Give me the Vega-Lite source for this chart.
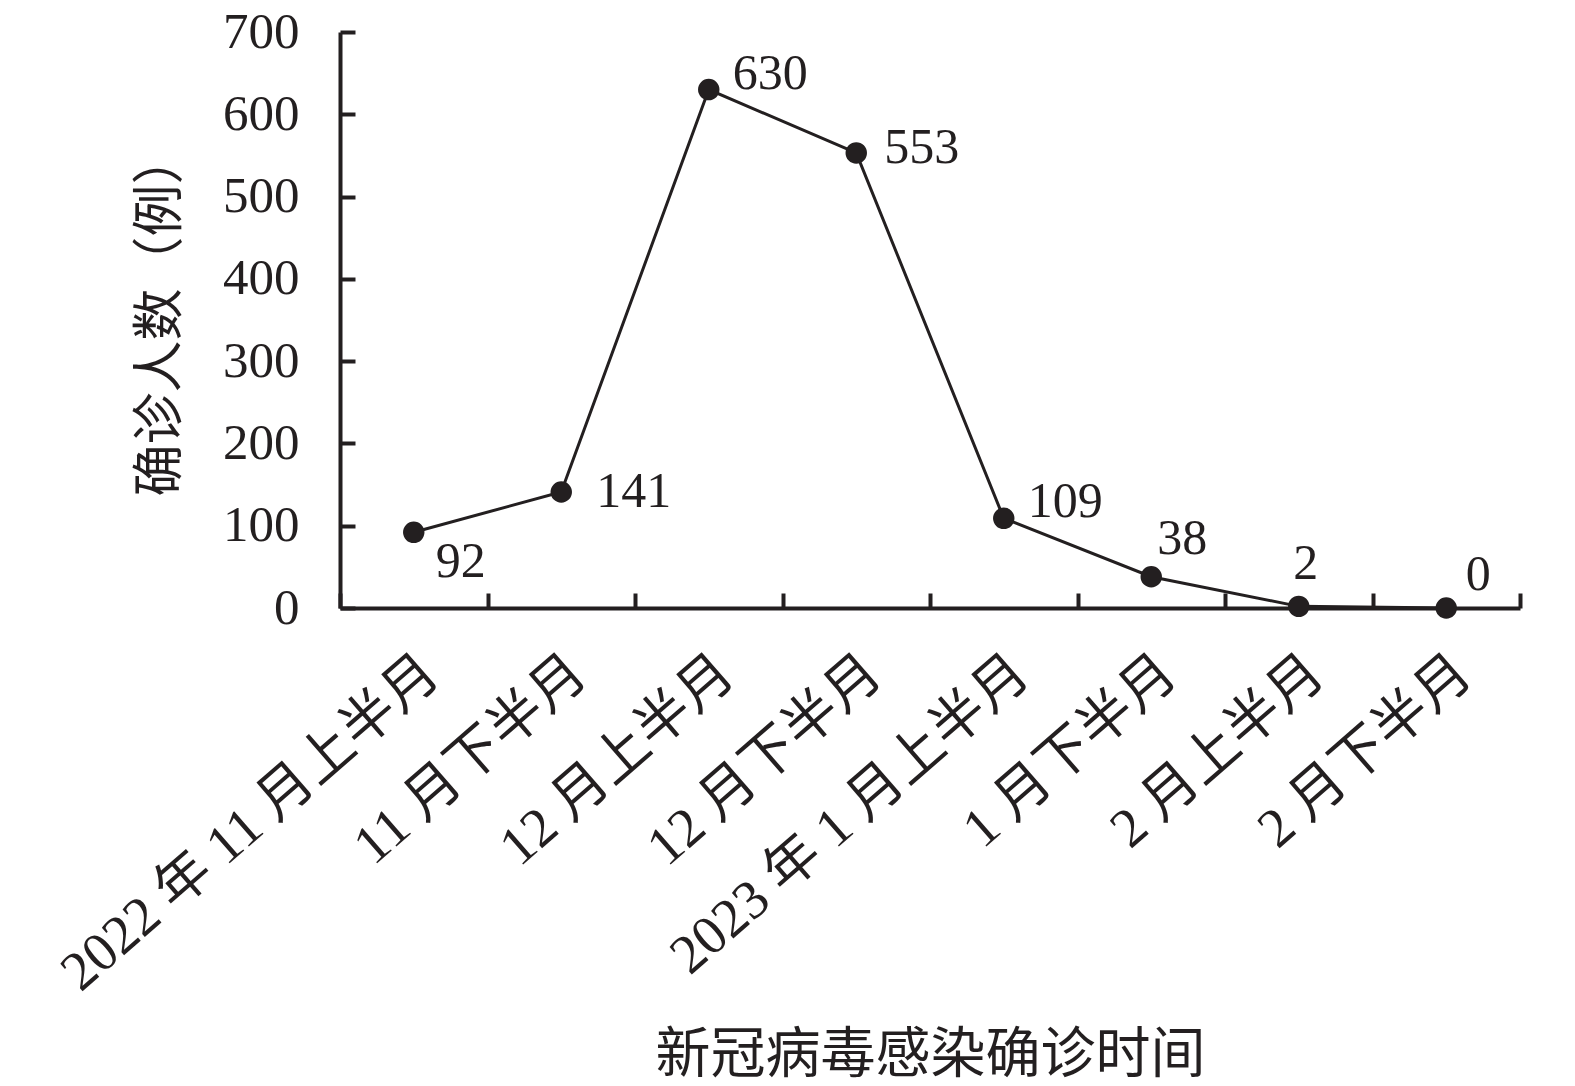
{
  "$schema": "https://vega.github.io/schema/vega-lite/v6.json",
  "autosize": "none",
  "width": 1180,
  "height": 576,
  "padding": {"left": 340, "top": 32, "right": 55, "bottom": 478},
  "background": "white",
  "data": {
    "values": [
      {"t": "2022 年 11 月上半月", "v": 92},
      {"t": "11 月下半月", "v": 141},
      {"t": "12 月上半月", "v": 630},
      {"t": "12 月下半月", "v": 553},
      {"t": "2023 年 1 月上半月", "v": 109},
      {"t": "1 月下半月", "v": 38},
      {"t": "2 月上半月", "v": 2},
      {"t": "2 月下半月", "v": 0}
    ]
  },
  "config": {
    "view": {"stroke": null},
    "axis": {
      "grid": false,
      "domainColor": "#231f20",
      "domainWidth": 4,
      "tickColor": "#231f20",
      "tickWidth": 4,
      "labelColor": "#231f20",
      "titleColor": "#231f20",
      "labelFont": "Liberation Serif, Noto Sans CJK SC",
      "titleFont": "Liberation Serif, Noto Sans CJK SC",
      "titleFontWeight": "normal"
    }
  },
  "encoding": {
    "x": {
      "field": "t",
      "type": "nominal",
      "sort": null,
      "scale": {"type": "band", "paddingInner": 0, "paddingOuter": 0},
      "axis": {
        "title": "新冠病毒感染确诊时间",
        "titleFontSize": 55,
        "titleBaseline": "middle",
        "titleY": 446,
        "labelAngle": -41,
        "labelAlign": "right",
        "labelBaseline": "middle",
        "labelFontSize": 55,
        "labelPadding": 72,
        "labelOffset": 17,
        "labelLimit": 1000,
        "tickBand": "extent",
        "tickSize": -15
      }
    },
    "y": {
      "field": "v",
      "type": "quantitative",
      "scale": {"domain": [0, 700], "nice": false},
      "axis": {
        "title": "确诊人数（例）",
        "titleFontSize": 52,
        "titleBaseline": "middle",
        "titleX": -180,
        "titleY": 282,
        "titleAngle": -90,
        "values": [0, 100, 200, 300, 400, 500, 600, 700],
        "labelFontSize": 51,
        "labelPadding": 56,
        "tickSize": -15
      }
    }
  },
  "layer": [
    {"mark": {"type": "line", "color": "#231f20", "strokeWidth": 3}},
    {"mark": {"type": "point", "filled": true, "color": "#231f20", "opacity": 1, "size": 460}},
    {
      "transform": [{"filter": "datum.v == 92"}],
      "mark": {"type": "text", "align": "left", "baseline": "middle", "dx": 22, "dy": 30, "fontSize": 50, "font": "Liberation Serif", "color": "#231f20"},
      "encoding": {"text": {"field": "v", "type": "quantitative"}}
    },
    {
      "transform": [{"filter": "datum.v == 141"}],
      "mark": {"type": "text", "align": "left", "baseline": "middle", "dx": 35, "dy": 0, "fontSize": 50, "font": "Liberation Serif", "color": "#231f20"},
      "encoding": {"text": {"field": "v", "type": "quantitative"}}
    },
    {
      "transform": [{"filter": "datum.v == 630 || datum.v == 109"}],
      "mark": {"type": "text", "align": "left", "baseline": "middle", "dx": 24, "dy": -16, "fontSize": 50, "font": "Liberation Serif", "color": "#231f20"},
      "encoding": {"text": {"field": "v", "type": "quantitative"}}
    },
    {
      "transform": [{"filter": "datum.v == 553"}],
      "mark": {"type": "text", "align": "left", "baseline": "middle", "dx": 28, "dy": -5, "fontSize": 50, "font": "Liberation Serif", "color": "#231f20"},
      "encoding": {"text": {"field": "v", "type": "quantitative"}}
    },
    {
      "transform": [{"filter": "datum.v == 38"}],
      "mark": {"type": "text", "align": "center", "baseline": "middle", "dx": 31, "dy": -38, "fontSize": 50, "font": "Liberation Serif", "color": "#231f20"},
      "encoding": {"text": {"field": "v", "type": "quantitative"}}
    },
    {
      "transform": [{"filter": "datum.v == 2"}],
      "mark": {"type": "text", "align": "center", "baseline": "middle", "dx": 7, "dy": -42, "fontSize": 50, "font": "Liberation Serif", "color": "#231f20"},
      "encoding": {"text": {"field": "v", "type": "quantitative"}}
    },
    {
      "transform": [{"filter": "datum.v == 0"}],
      "mark": {"type": "text", "align": "center", "baseline": "middle", "dx": 32, "dy": -33, "fontSize": 50, "font": "Liberation Serif", "color": "#231f20"},
      "encoding": {"text": {"field": "v", "type": "quantitative"}}
    }
  ]
}
